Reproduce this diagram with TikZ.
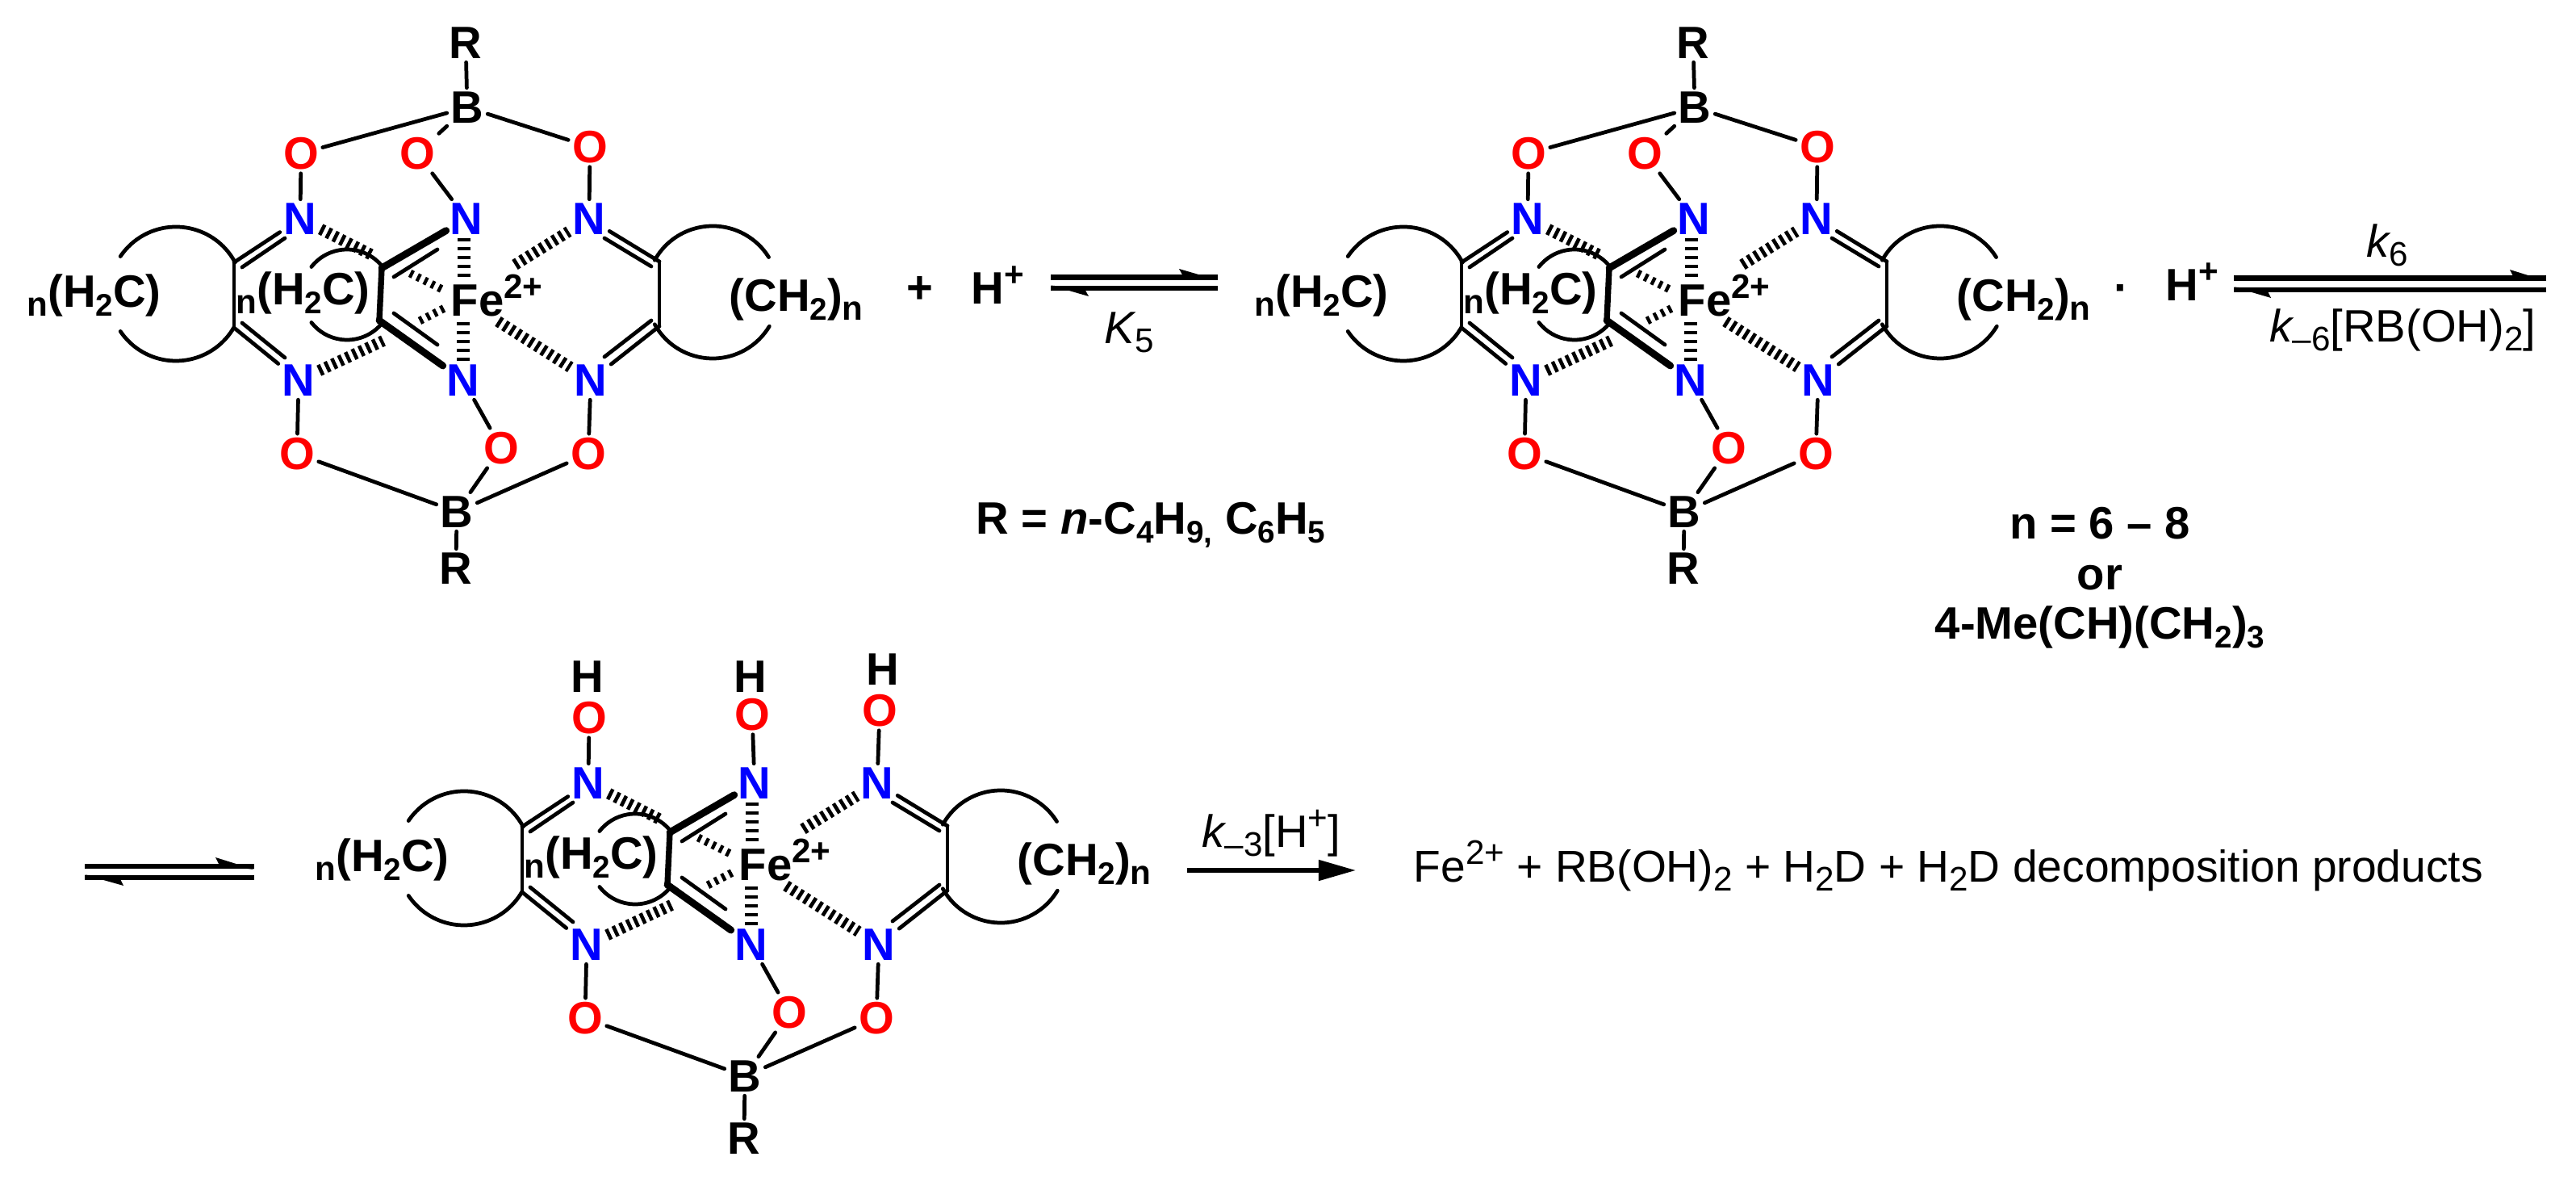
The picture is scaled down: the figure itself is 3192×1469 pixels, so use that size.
\documentclass[tikz,border=0pt]{standalone}
\usepackage{fontspec}
\usetikzlibrary{arrows.meta}
\setmainfont{Liberation Sans}
\newcommand\sbx[1]{\raisebox{-3pt}{\fontsize{11}{12}\selectfont #1}}
\newcommand\sbn[1]{\raisebox{-3pt}{\fontsize{12}{13}\selectfont #1}}
\newcommand\spx[1]{\raisebox{6.3pt}{\fontsize{12}{13}\selectfont #1}}
\tikzset{
  atom/.style={font=\fontsize{16}{18}\selectfont\bfseries,inner sep=1.2pt},
  nat/.style={atom,text=blue},
  oat/.style={atom,text=red},
  boldlab/.style={font=\fontsize{16}{18}\selectfont\bfseries,inner sep=0pt,anchor=base west},
  lab/.style={font=\fontsize{16}{18}\selectfont,inner sep=0pt,anchor=base west},
  bond/.style={line width=1.35pt,line cap=round},
  wbond/.style={line width=2.5pt,line cap=round},
  hbar/.style={line width=4pt,dash pattern=on 1.3pt off 1.35pt},
  vbar/.style={line width=4.3pt,dash pattern=on 1.2pt off 1.9pt},
  sbar/.style={line width=2.8pt,dash pattern=on 1.2pt off 1.6pt},
  eqline/.style={line width=1.9pt},
}
\newcommand\MolCore[2]{%
  \node[boldlab] (#1ll) at (33,381) {\sbn{n}(H\sbx{2}C)};
  \node[boldlab] (#1lm) at (292,378) {\sbn{n}(H\sbx{2}C)};
  \node[boldlab] (#1lr) at (903,386) {(CH\sbx{2})\sbn{n}};
  \node[boldlab] (#1Fe) at (558,392) {Fe\spx{2+}};
  \node[nat] (#1N1) at (372,271) {N};
  \node[nat] (#1N2) at (578,271) {N};
  \node[nat] (#1N3) at (730,271) {N};
  \node[nat] (#1N4) at (370,471) {N};
  \node[nat] (#1N5) at (574,471) {N};
  \node[nat] (#1N6) at (732,471) {N};
  \node[oat] (#1O4) at (368,562) {O};
  \node[oat] (#1O5) at (621,555) {O};
  \node[oat] (#1O6) at (729,562) {O};
  \node[atom] (#1B2) at (566,634) {B};
  \node[atom] (#1R2) at (565,#2) {R};
  \coordinate (#1Ca) at (290,325);
  \coordinate (#1Cb) at (290,406);
  \coordinate (#1Cc) at (473,332);
  \coordinate (#1Cd) at (470,397);
  \coordinate (#1Ce) at (817,324);
  \coordinate (#1Cf) at (817,404);
  \coordinate (#1ra) at (218,364);
  \coordinate (#1rb) at (430,365);
  \coordinate (#1rc) at (883,362);
  % rings
  \draw[bond] (#1ra) ++(-28:83) arc[start angle=-28,end angle=-146,radius=83];
  \draw[bond] (#1ra) ++(30:83) arc[start angle=30,end angle=146,radius=83];
  \draw[bond] (#1rb) ++(-40:56) arc[start angle=-40,end angle=-142,radius=56];
  \draw[bond] (#1rb) ++(38:56) arc[start angle=38,end angle=142,radius=56];
  \draw[bond] (#1rc) ++(-151:82) arc[start angle=-151,end angle=-32,radius=82];
  \draw[bond] (#1rc) ++(151:82) arc[start angle=151,end angle=31,radius=82];
  % backbone
  \draw[bond] (#1Ca) -- (#1Cb);
  \draw[bond] (#1Ce) -- (#1Cf);
  \draw[line width=2.1pt,line cap=round] (#1Cc) -- (#1Cd);
  % double bonds, outer lines
  \draw[bond] (#1Ca) -- (#1N1);
  \draw[bond] (#1Cb) -- (#1N4);
  \draw[bond] (#1Ce) -- (#1N3);
  \draw[bond] (#1Cf) -- (#1N6);
  \draw[wbond] (#1Cc) -- (#1N2);
  \draw[wbond] (#1Cd) -- (#1N5);
  % double bonds, inner lines
  \coordinate (#1ia) at (300,331); \coordinate (#1ib) at (353,295);
  \coordinate (#1ic) at (300,400); \coordinate (#1id) at (353,443);
  \coordinate (#1ie) at (807,330); \coordinate (#1if) at (749,295);
  \coordinate (#1ig) at (807,397); \coordinate (#1ih) at (749,442);
  \coordinate (#1ii) at (488,343); \coordinate (#1ij) at (542,309);
  \coordinate (#1ik) at (488,388); \coordinate (#1il) at (542,427);
  \draw[bond] (#1ia) -- (#1ib);
  \draw[bond] (#1ic) -- (#1id);
  \draw[bond] (#1ie) -- (#1if);
  \draw[bond] (#1ig) -- (#1ih);
  \draw[bond] (#1ii) -- (#1ij);
  \draw[bond] (#1ik) -- (#1il);
  % hashed bonds
  \coordinate (#1ha) at (463,317); \coordinate (#1hb) at (475,422);
  \coordinate (#1hc) at (575,347); \coordinate (#1hd) at (574,397);
  \coordinate (#1he) at (638,328); \coordinate (#1hf) at (617,398);
  \coordinate (#1hg) at (547,358); \coordinate (#1hh) at (505,337);
  \coordinate (#1hi) at (550,382); \coordinate (#1hj) at (515,400);
  \draw[hbar] (#1N1) -- (#1ha);
  \draw[hbar] (#1N4) -- (#1hb);
  \draw[vbar] (#1N2.south -| #1hc) -- (#1hc);
  \draw[vbar] (#1N5.north) -- (#1hd);
  \draw[hbar] (#1he) -- (#1N3);
  \draw[hbar] (#1hf) -- (#1N6);
  \draw[sbar] (#1hg) -- (#1hh);
  \draw[sbar] (#1hi) -- (#1hj);
  % bottom cage
  \draw[bond] (#1N4) -- (#1O4);
  \draw[bond] (#1N5) -- (#1O5);
  \draw[bond] (#1N6) -- (#1O6);
  \draw[bond] (#1O4) -- (#1B2);
  \draw[bond] (#1O5) -- (#1B2);
  \draw[bond] (#1O6) -- (#1B2);
  \draw[bond] (#1B2) -- (#1R2);
}
\newcommand\TopBoron[1]{%
  \node[atom] (#1R1) at (577,53) {R};
  \node[atom] (#1B1) at (579,133) {B};
  \node[oat] (#1O1) at (373,190) {O};
  \node[oat] (#1O2) at (517,190) {O};
  \node[oat] (#1O3) at (731,182) {O};
  \draw[bond] (#1R1) -- (#1B1);
  \draw[bond] (#1B1) -- (#1O1);
  \draw[bond] (#1B1) -- (#1O2);
  \draw[bond] (#1B1) -- (#1O3);
  \draw[bond] (#1O1) -- (#1N1);
  \draw[bond] (#1O2) -- (#1N2);
  \draw[bond] (#1O3) -- (#1N3);
}
\newcommand\TopHydrogens[1]{%
  \node[atom] (#1H1) at (371,139) {H};
  \node[atom] (#1H2) at (573,139) {H};
  \node[atom] (#1H3) at (737,130) {H};
  \node[oat] (#1O1) at (373,190) {O};
  \node[oat] (#1O2) at (575,186) {O};
  \node[oat] (#1O3) at (733,181) {O};
  \draw[bond] (#1O1) -- (#1N1);
  \draw[bond] (#1O2) -- (#1N2);
  \draw[bond] (#1O3) -- (#1N3);
}
\begin{document}
\begin{tikzpicture}[x=0.1mm,y=0.1mm,yscale=-1]
\useasboundingbox (0,0) rectangle (3192,1469);
\begin{scope}
  \MolCore{a}{704}
  \TopBoron{a}
\end{scope}
\begin{scope}[shift={(1521,0)}]
  \MolCore{b}{704}
  \TopBoron{b}
\end{scope}
\begin{scope}[shift={(357,699)}]
  \MolCore{c}{711}
  \TopHydrogens{c}
\end{scope}
% first line texts
\node[atom] (plus) at (1140,359) {+};
\node[boldlab] (hp1) at (1203,377) {H\spx{+}};
\node[lab] (k5) at (1368,426) {{\itshape K}\raisebox{-3pt}{\fontsize{12}{13}\selectfont 5}};
\node[boldlab] (rdef) at (1209,662) {R = {\itshape n}-C\sbx{4}H\sbx{9,} C\sbx{6}H\sbx{5}};
\node[boldlab] (dot) at (2619,376) {·};
\node[boldlab] (hp2) at (2683,373) {H\spx{+}};
\node[lab] (k6) at (2932,319) {{\itshape k}\raisebox{-3pt}{\fontsize{12}{13}\selectfont 6}};
\node[lab] (km6) at (2812,424) {{\itshape k}\raisebox{-3pt}{\fontsize{12}{13}\selectfont –6}[RB(OH)\raisebox{-3pt}{\fontsize{12}{13}\selectfont 2}]};
\node[boldlab,anchor=base] (ndef) at (2602,668) {n = 6 – 8};
\node[boldlab,anchor=base] (ordef) at (2602,731) {or};
\node[boldlab,anchor=base] (medef) at (2602,792) {4-Me(CH)(CH\sbx{2})\sbx{3}};
\node[lab] (km3) at (1489,1050) {{\itshape k}\raisebox{-3pt}{\fontsize{12}{13}\selectfont –3}[H\raisebox{6.3pt}{\fontsize{12}{13}\selectfont +}]};
\node[lab,font=\fontsize{15.7}{18}\selectfont] (prod) at (1751,1093) {Fe\spx{2+} + RB(OH)\raisebox{-3pt}{\fontsize{12}{13}\selectfont 2} + H\raisebox{-3pt}{\fontsize{12}{13}\selectfont 2}D + H\raisebox{-3pt}{\fontsize{12}{13}\selectfont 2}D decomposition products};
% equilibrium 1
\coordinate (e1a) at (1302,343.5); \coordinate (e1b) at (1509,343.5);
\coordinate (e1c) at (1509,357); \coordinate (e1d) at (1302,357);
\draw[eqline] (e1a) -- (e1b);
\fill (1509,347) -- (1461,333) -- (1466,342) -- cycle;
\draw[eqline] (e1c) -- (e1d);
\fill (1302,353.5) -- (1349,367) -- (1344,358) -- cycle;
% equilibrium 2
\coordinate (e2a) at (2768,344.5); \coordinate (e2b) at (3155,344.5);
\coordinate (e2c) at (3155,359); \coordinate (e2d) at (2768,359);
\draw[eqline] (e2a) -- (e2b);
\fill (3155,348) -- (3110,334) -- (3115,344) -- cycle;
\draw[eqline] (e2c) -- (e2d);
\fill (2768,355.5) -- (2814,369) -- (2809,359) -- cycle;
% equilibrium 3
\coordinate (e3a) at (105,1073); \coordinate (e3b) at (315,1073);
\coordinate (e3c) at (315,1087); \coordinate (e3d) at (105,1087);
\draw[eqline] (e3a) -- (e3b);
\fill (315,1077) -- (267,1062) -- (272,1072) -- cycle;
\draw[eqline] (e3c) -- (e3d);
\fill (105,1083.5) -- (153,1097) -- (148,1087) -- cycle;
% final arrow
\coordinate (e4a) at (1471,1078); \coordinate (e4b) at (1680,1078);
\draw[line width=1.45pt,-{Triangle[length=13.1pt,width=7.1pt]}] (e4a) -- (e4b);
\end{tikzpicture}
\end{document}
